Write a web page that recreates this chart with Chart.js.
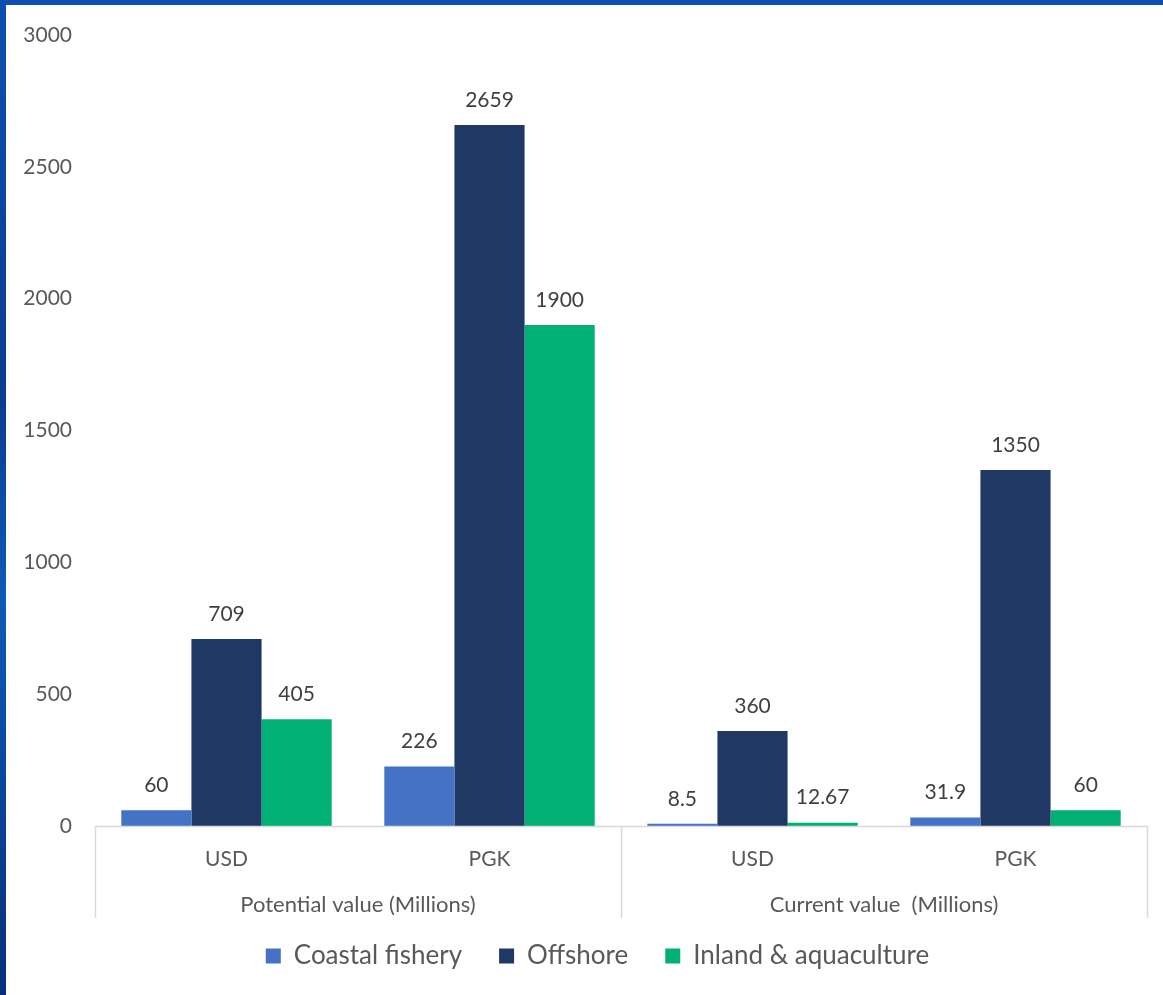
<!DOCTYPE html>
<html>
<head>
<meta charset="utf-8">
<script src="https://cdn.jsdelivr.net/npm/chart.js@4"></script>
<style>
  html, body { margin: 0; padding: 0; }
  body {
    width: 1163px; height: 995px; overflow: hidden;
    background: linear-gradient(180deg, #0d4fb0 0%, #0a3d8f 40%, #0e5ab8 60%, #06307a 100%);
    position: relative;
  }
  #wrap {
    position: absolute; left: 6px; top: 5px; width: 1157px; height: 990px;
    background: #ffffff;
  }
</style>
</head>
<body>
<div id="wrap"><canvas id="chart" width="1157" height="990"></canvas></div>
<script>
// Dados
const categorias = ['USD', 'PGK', 'USD', 'PGK'];
const grupos = ['Potential value (Millions)', 'Current value  (Millions)'];
const costeira = [60, 226, 8.5, 31.9];
const offshore = [709, 2659, 360, 1350];
const interior = [405, 1900, 12.67, 60];
const rotulosCosteira = ['60', '226', '8.5', '31.9'];
const rotulosOffshore = ['709', '2659', '360', '1350'];
const rotulosInterior = ['405', '1900', '12.67', '60'];

const FONTE = "Lato, 'Open Sans', sans-serif";

// rótulos de valor acima das barras
const pluginRotulos = {
  id: 'rotulos',
  afterDatasetsDraw(chart) {
    const ctx = chart.ctx;
    ctx.save();
    ctx.font = '21px ' + FONTE;
    ctx.fillStyle = '#404040';
    ctx.textAlign = 'center';
    ctx.textBaseline = 'middle';
    chart.data.datasets.forEach((ds, i) => {
      const meta = chart.getDatasetMeta(i);
      meta.data.forEach((bar, j) => {
        ctx.fillText(ds.rotulos[j], bar.x, bar.y - 25);
      });
    });
    ctx.restore();
  }
};

// eixo de categorias em dois níveis
const pluginGrupos = {
  id: 'grupos',
  afterDraw(chart) {
    const ctx = chart.ctx;
    const area = chart.chartArea;
    const baixo = area.bottom + 92;
    ctx.save();
    ctx.strokeStyle = '#d9d9d9';
    ctx.lineWidth = 1.5;
    ctx.beginPath();
    ctx.moveTo(area.left, area.bottom + 0.5);
    ctx.lineTo(area.right, area.bottom + 0.5);
    const passo = (area.right - area.left) / categorias.length;
    [0, 2, 4].forEach(k => {
      const px = Math.round(area.left + k * passo) + 0.5;
      ctx.moveTo(px, area.bottom);
      ctx.lineTo(px, baixo);
    });
    ctx.stroke();
    ctx.font = '22px ' + FONTE;
    ctx.fillStyle = '#595959';
    ctx.textAlign = 'center';
    ctx.textBaseline = 'middle';
    grupos.forEach((g, k) => {
      const cx = area.left + (2 * k + 1) * passo;
      ctx.fillText(g, cx, area.bottom + 79);
    });
    ctx.restore();
  }
};

// desloca a legenda para a direita, como no original
const pluginLegenda = {
  id: 'legendaDesloc',
  afterLayout(chart) {
    const lg = chart.legend;
    if (!lg) return;
    lg.left += 21;
    lg.right += 21;
  }
};

new Chart(document.getElementById('chart'), {
  type: 'bar',
  data: {
    labels: categorias,
    datasets: [
      { label: 'Coastal fishery', data: costeira, rotulos: rotulosCosteira, backgroundColor: '#4472C4' },
      { label: 'Offshore', data: offshore, rotulos: rotulosOffshore, backgroundColor: '#203864' },
      { label: 'Inland & aquaculture', data: interior, rotulos: rotulosInterior, backgroundColor: '#00B074' }
    ]
  },
  options: {
    responsive: false,
    animation: false,
    layout: { padding: { top: 0, right: 16, bottom: 16, left: 0 } },
    datasets: {
      bar: { categoryPercentage: 0.8, barPercentage: 1.0 }
    },
    scales: {
      x: {
        grid: { display: false, drawTicks: false },
        border: { display: false },
        ticks: { color: '#595959', font: { family: FONTE, size: 21 }, padding: 21 },
        afterFit(scale) { scale.height = 80; }
      },
      y: {
        min: 0, max: 3000,
        grid: { display: false, drawTicks: false },
        border: { display: false },
        ticks: {
          stepSize: 500, color: '#595959', font: { family: FONTE, size: 21 }, padding: 23,
          callback: v => String(v)
        },
        afterFit(scale) {
          scale.width = 89;
          scale.paddingTop = 30;
        }
      }
    },
    plugins: {
      legend: {
        position: 'bottom',
        labels: {
          color: '#595959',
          font: { family: FONTE, size: 26 },
          boxWidth: 15, boxHeight: 15,
          padding: 37
        }
      },
      tooltip: { enabled: false }
    }
  },
  plugins: [pluginRotulos, pluginGrupos, pluginLegenda]
});
</script>
</body>
</html>
